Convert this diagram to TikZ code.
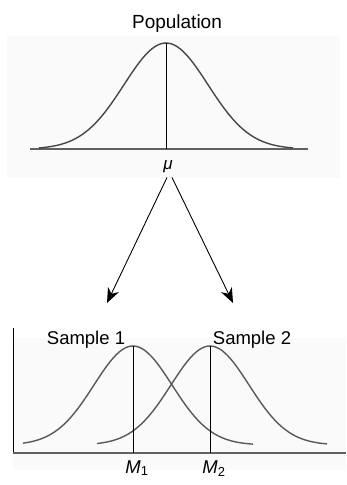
\documentclass[tikz,border=0pt]{standalone}
\usepackage{fontspec}
\setmainfont{Liberation Sans}
\usepackage{tikz}
\usetikzlibrary{arrows.meta,positioning}
\colorlet{distpanel}{black!2}
\colorlet{distcurve}{black!72}
\colorlet{distaxis}{black!62}
\tikzset{
  distbell/.style={distcurve,line width=1.4pt,smooth,samples=80},
  distmean/.style={black,line width=0.9pt},
  distbase/.style={distaxis,line width=2.2pt},
  distlabel/.style={font=\fontsize{18.5}{21}\selectfont,anchor=base,inner sep=0pt},
  distsym/.style={font=\fontsize{17}{19}\selectfont\itshape,anchor=base,inner sep=2pt},
  distdraw/.style={-{Stealth[length=15pt,width=12pt]},line width=0.9pt,black}
}
\begin{document}
\begin{tikzpicture}[x=1pt,y=-1pt]
  \useasboundingbox (0,0) rectangle (346,485);
  % faint panels behind the two plots
  \fill[distpanel] (7,36) rectangle (340,178);
  \fill[distpanel] (13,338) rectangle (346,470);

  % population
  \node[distlabel,font=\fontsize{19}{22}\selectfont] (poptitle) at (177,28) {Population};
  \draw[distbase] (30,149) -- (308,149);
  \draw[distbell] plot[domain=39:293] (\x,{149-106*exp(-((\x-166)^2)/(2*42^2))});
  \draw[distmean] (166,43) -- (166,149);
  \node[distsym] (mu) at (168,169) {μ};

  % sampling arrows
  \coordinate (drawone) at (107,303);
  \coordinate (drawtwo) at (233,303);
  \draw[distdraw] ([xshift=-1pt,yshift=-3pt]mu.south) -- (drawone);
  \draw[distdraw] ([xshift=4pt,yshift=-3pt]mu.south) -- (drawtwo);

  % samples
  \draw[black,line width=0.9pt] (13,328) -- (13,453);
  \draw[distaxis,line width=1.4pt] (13,453) -- (346,453);
  \draw[distbell,black!65] plot[domain=23:253] (\x,{445-99*exp(-((\x-133)^2)/(2*39^2))});
  \draw[distbell,black!65] plot[domain=97:327] (\x,{445-99*exp(-((\x-210)^2)/(2*39^2))});
  \draw[distmean] (133,346) -- (133,453);
  \draw[distmean] (210,346) -- (210,453);
  \node[distlabel] (sampone) at (86,344) {Sample 1};
  \node[distlabel] (samptwo) at (252,344) {Sample 2};
  \node[distlabel] (mone) at (137,473) {\itshape M\textsubscript{\upshape 1}};
  \node[distlabel] (mtwo) at (214,473) {\itshape M\textsubscript{\upshape 2}};
\end{tikzpicture}
\end{document}
